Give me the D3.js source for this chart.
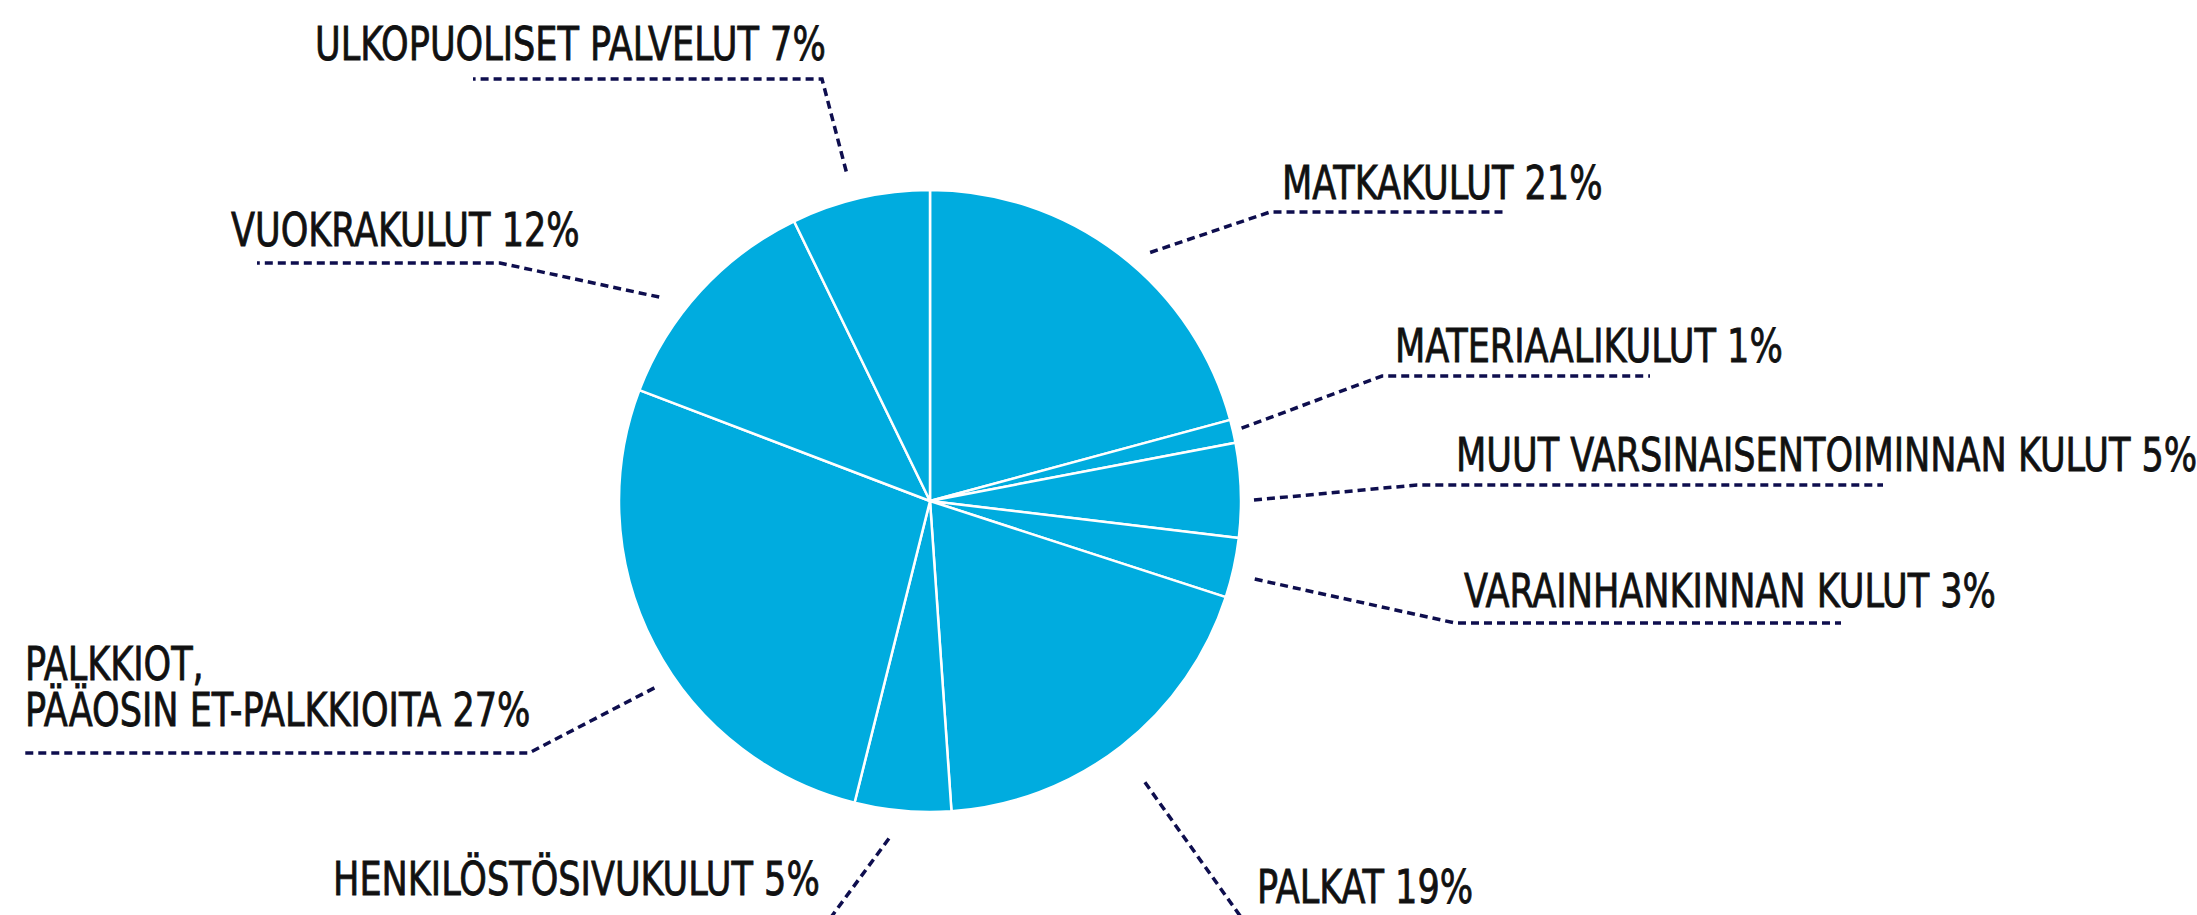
<!DOCTYPE html>
<html lang="fi">
<head>
<meta charset="UTF-8">
<title>Kulut</title>
<style>
  body { margin: 0; background: #fff; }
  .label {
    font-family: "DejaVu Sans Condensed", "Liberation Sans Narrow", sans-serif;
    font-size: 47px;
    fill: #111;
    stroke: #111;
    stroke-width: 0.8px;
  }
  .leader {
    fill: none;
    stroke: #0e0e4e;
    stroke-width: 3.5;
    stroke-dasharray: 8 5;
  }
</style>
</head>
<body>
<svg width="2197" height="915"></svg>
<script src="https://cdn.jsdelivr.net/npm/d3@7"></script>
<script>
// Slices clockwise from 12 o'clock
const categories = [
  'MATKAKULUT',
  'MATERIAALIKULUT',
  'MUUT VARSINAISENTOIMINNAN KULUT',
  'VARAINHANKINNAN KULUT',
  'PALKAT',
  'HENKILÖSTÖSIVUKULUT',
  'PALKKIOT,\nPÄÄOSIN ET-PALKKIOITA',
  'VUOKRAKULUT',
  'ULKOPUOLISET PALVELUT'
];
const values = [20.8, 1.2, 4.9, 3.1, 18.9, 5.0, 26.9, 12.0, 7.2];

// Hand placed label layout: text position, leader knee, end of the horizontal part,
// and a small nudge (degrees, px) of where the leader leaves the pie.
const labelLayout = [
  { tx: 1282, ty: 199, kx: 1270, ky: 212, ex: 1505, da: 4.1, dr: 21 },
  { tx: 1395, ty: 362, kx: 1382, ky: 376, ex: 1650, da: -0.2, dr: 9 },
  { tx: 1456, ty: 471, kx: 1417, ky: 485, ex: 1883, da: 1.8, dr: 13 },
  { tx: 1464, ty: 607, kx: 1455, ky: 623, ex: 1841, da: 1.1, dr: 23 },
  { tx: 1257, ty: 903, kx: 1243, ky: 920, ex: null, da: 0.6, dr: 43 },
  { tx: 333,  ty: 895, kx: 829,  ky: 920, ex: null, da: 1.9, dr: 29 },
  { tx: 25,   ty: 680, kx: 529,  ky: 753, ex: 25,   da: -6.6, dr: 22 },
  { tx: 231,  ty: 246, kx: 500,  ky: 263, ex: 257,  da: -5.5, dr: 28 },
  { tx: 315,  ty: 60,  kx: 822,  ky: 79,  ex: 473,  da: -1.3, dr: 29 }
];

const cx = 930, cy = 501, radius = 311;
const lineHeight = 46;
// the original face is a narrow one; squeeze the installed condensed face to fit
const squeeze = 0.83;

const svg = d3.select('svg');

const pie = d3.pie().sort(null).value(function (d) { return d; });
const arc = d3.arc().innerRadius(0).outerRadius(radius);
const arcs = pie(values);

const pieG = svg.append('g').attr('transform', 'translate(' + cx + ' ' + cy + ')');

pieG.selectAll('path')
  .data(arcs)
  .enter()
  .append('path')
  .attr('d', arc)
  .attr('fill', '#00acdf')
  .attr('stroke', '#fff')
  .attr('stroke-width', 2.5)
  .attr('stroke-linejoin', 'round');

// Leaders
const leaderPoints = function (d, i) {
  const l = labelLayout[i];
  const a = (d.startAngle + d.endAngle) / 2 + l.da * Math.PI / 180;
  const r = radius + l.dr;
  const pts = [[cx + r * Math.sin(a), cy - r * Math.cos(a)], [l.kx, l.ky]];
  if (l.ex !== null) pts.push([l.ex, l.ky]);
  return pts;
};

svg.append('g')
  .selectAll('path')
  .data(arcs)
  .enter()
  .append('path')
  .attr('class', 'leader')
  .attr('d', function (d, i) { return d3.line()(leaderPoints(d, i)); });

// Labels
const labelG = svg.append('g')
  .selectAll('text')
  .data(arcs)
  .enter()
  .append('text')
  .attr('class', 'label')
  .attr('transform', function (d, i) {
    return 'translate(' + labelLayout[i].tx + ' ' + labelLayout[i].ty + ') scale(' + squeeze + ' 1)';
  });

labelG.each(function (d, i) {
  const lines = categories[i].split('\n');
  lines[lines.length - 1] += ' ' + Math.round(values[i]) + '%';
  const t = d3.select(this);
  lines.forEach(function (line, j) {
    t.append('tspan')
      .attr('x', 0)
      .attr('dy', j === 0 ? 0 : lineHeight)
      .text(line);
  });
});
</script>
</body>
</html>
